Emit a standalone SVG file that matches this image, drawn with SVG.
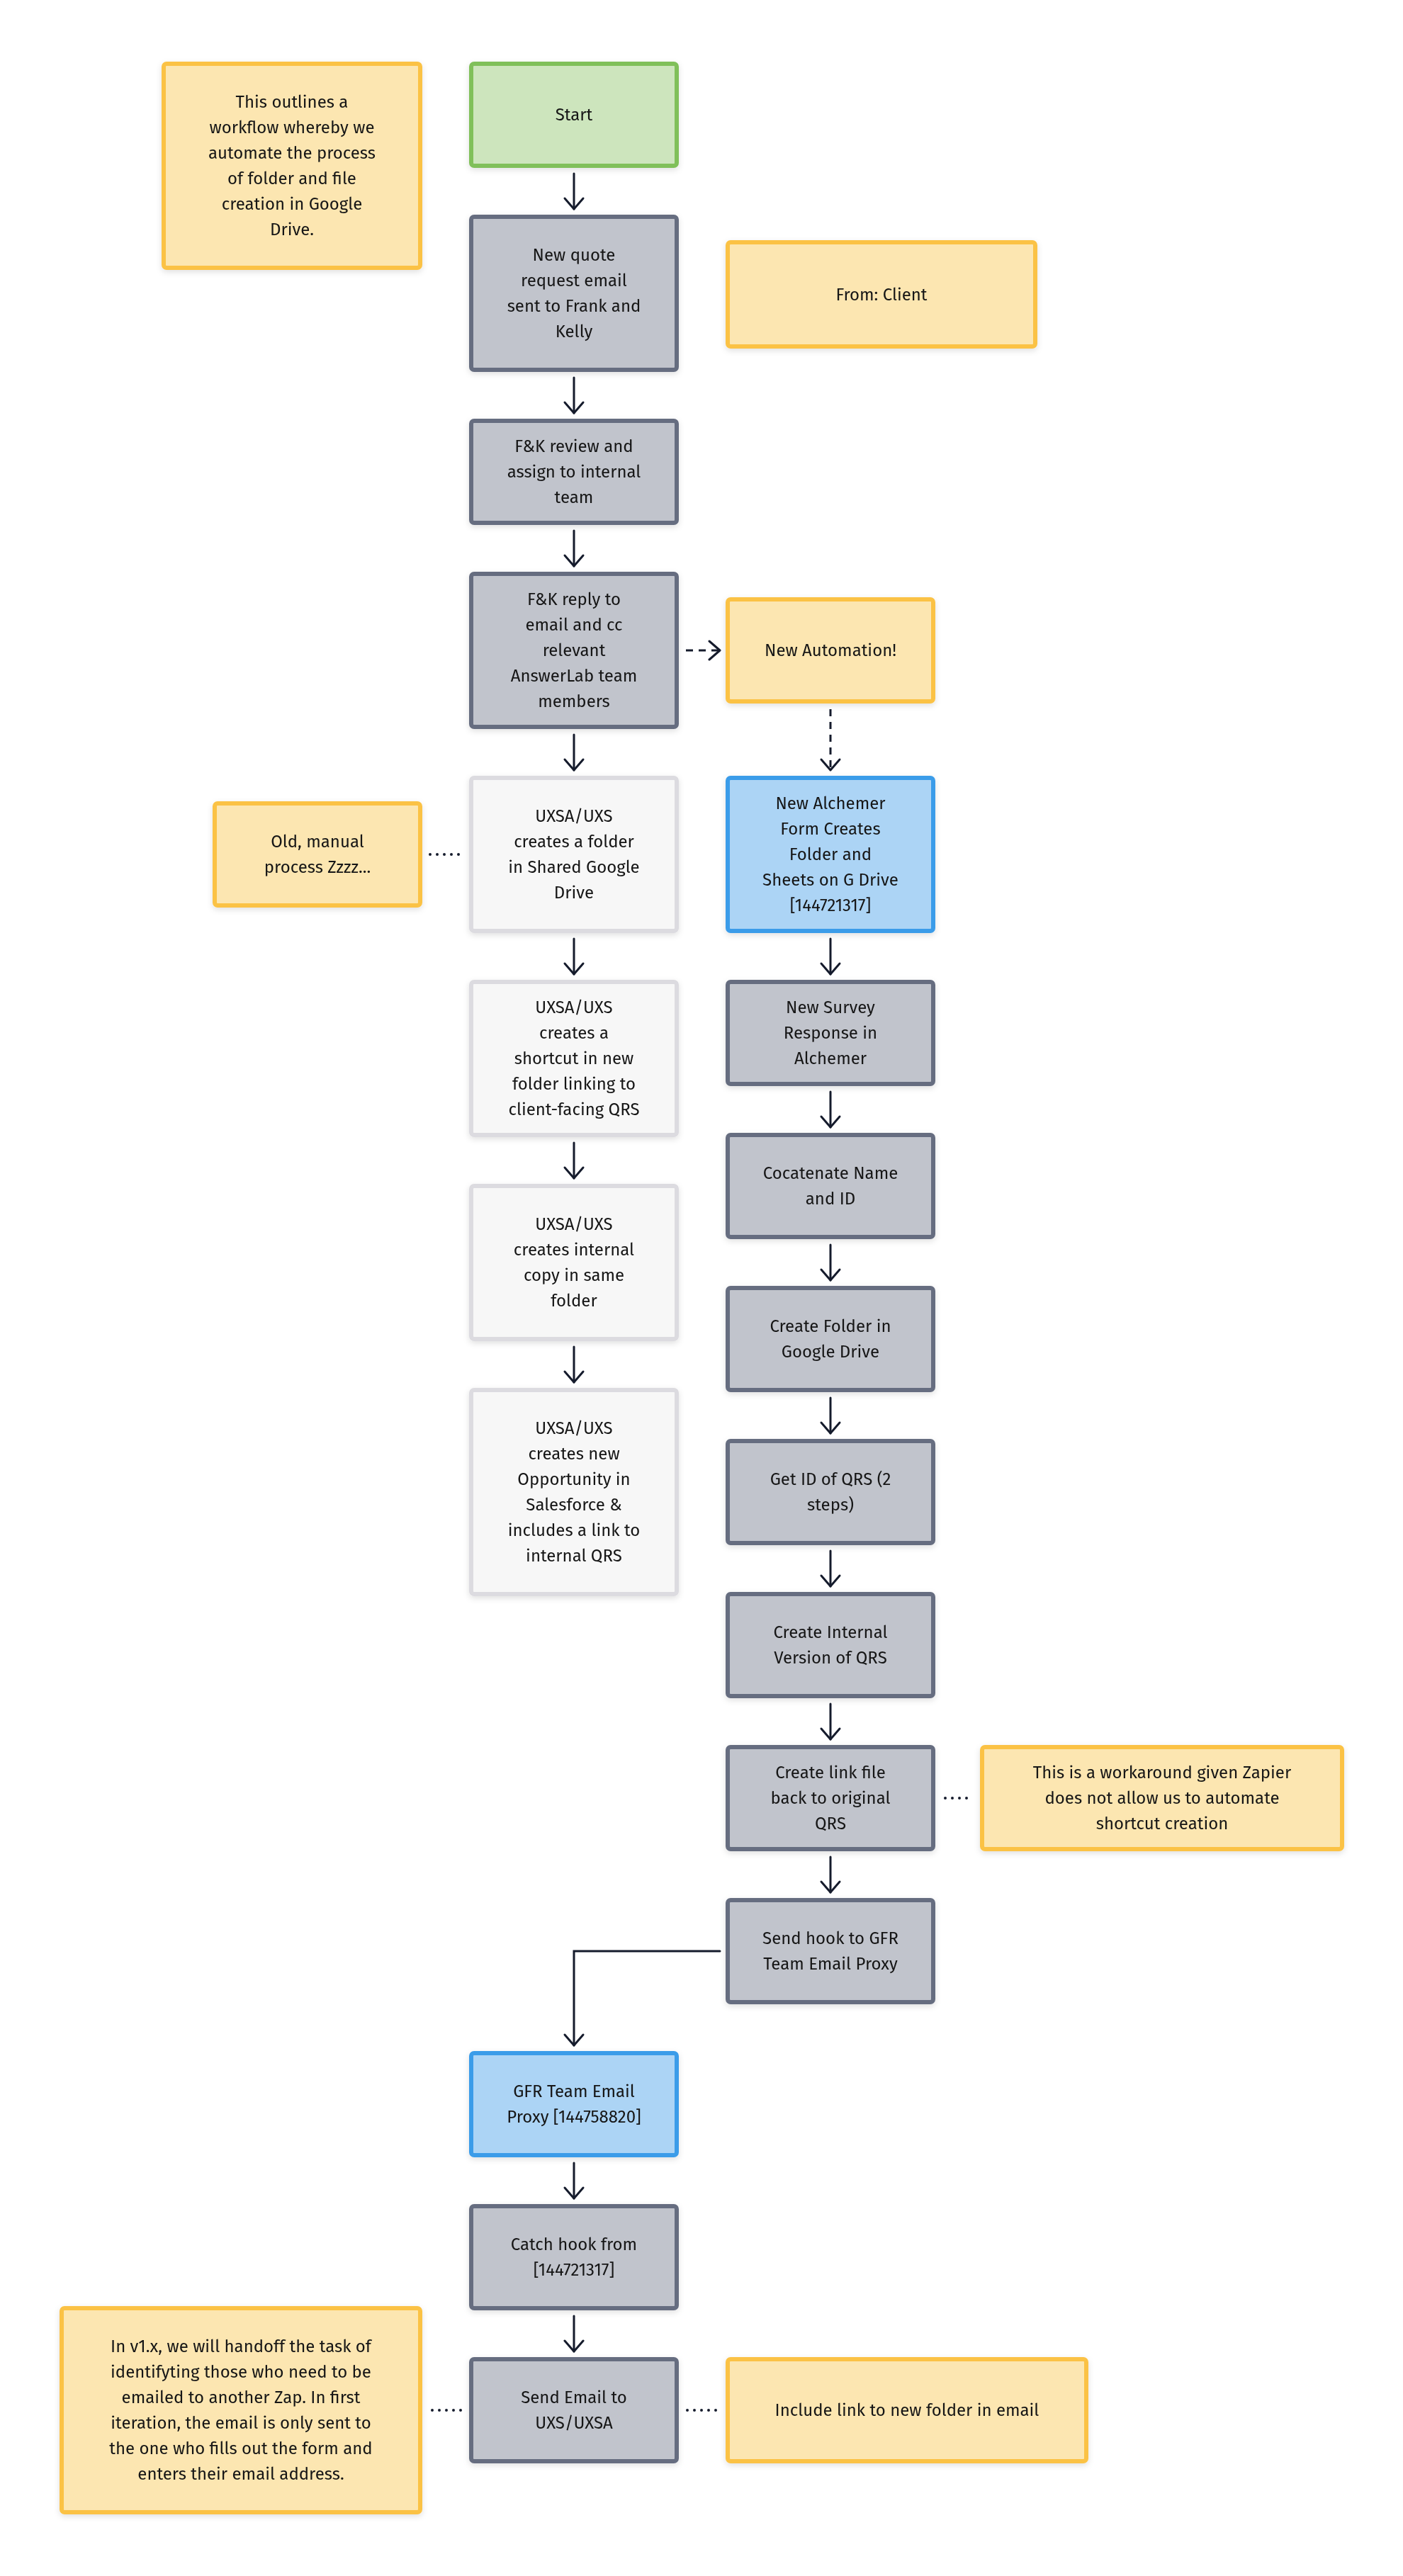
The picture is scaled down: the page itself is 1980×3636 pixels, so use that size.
<svg xmlns="http://www.w3.org/2000/svg" width="1980" height="3636" viewBox="0 0 1980 3636">
<style>
.n rect{stroke-width:6}
.note rect{fill:#fce6b1;stroke:#fbc245}
.start rect{fill:#cde5bd;stroke:#80c05a}
.grey rect{fill:#c1c4cc;stroke:#666d80}
.light rect{fill:#f7f7f7;stroke:#dcdbe0}
.blue rect{fill:#acd4f5;stroke:#3a9ce9}
text{font-family:"Fira Sans","Open Sans","Noto Sans",sans-serif;font-size:24px;fill:#141414;text-anchor:middle}
.c{fill:none;stroke:#151b2c;stroke-width:3;stroke-linecap:round}
.dash{stroke-dasharray:10 8;stroke-linecap:butt}
.dot{stroke-dasharray:0 10;stroke-width:4}
</style>
<defs>
<filter id="sh" x="-10%" y="-10%" width="120%" height="130%">
<feDropShadow dx="0" dy="3" stdDeviation="4" flood-color="#000" flood-opacity="0.12"/>
</filter>
<marker id="ah" viewBox="-20 -16 24 32" refX="0" refY="0" markerWidth="24" markerHeight="32" markerUnits="userSpaceOnUse" orient="auto">
<path d="M-15,-13 L0,0 L-15,13" fill="none" stroke="#151b2c" stroke-width="3" stroke-linecap="round" stroke-linejoin="round"/>
</marker>
</defs>
<rect width="1980" height="3636" fill="#ffffff"/>

<g id="connectors">
<path class="c" d="M810,245 V295" marker-end="url(#ah)"/>
<path class="c" d="M810,533 V583" marker-end="url(#ah)"/>
<path class="c" d="M810,749 V799" marker-end="url(#ah)"/>
<path class="c" d="M810,1037 V1087" marker-end="url(#ah)"/>
<path class="c" d="M810,1325 V1375" marker-end="url(#ah)"/>
<path class="c" d="M810,1613 V1663" marker-end="url(#ah)"/>
<path class="c" d="M810,1901 V1951" marker-end="url(#ah)"/>
<path class="c dash" d="M968,918 H1016" marker-end="url(#ah)"/>
<path class="c dash" d="M1172,1001 V1087" marker-end="url(#ah)"/>
<path class="c" d="M1172,1325 V1375" marker-end="url(#ah)"/>
<path class="c" d="M1172,1541 V1591" marker-end="url(#ah)"/>
<path class="c" d="M1172,1757 V1807" marker-end="url(#ah)"/>
<path class="c" d="M1172,1973 V2023" marker-end="url(#ah)"/>
<path class="c" d="M1172,2189 V2239" marker-end="url(#ah)"/>
<path class="c" d="M1172,2405 V2455" marker-end="url(#ah)"/>
<path class="c" d="M1172,2621 V2671" marker-end="url(#ah)"/>
<path class="c" d="M1016,2754 H810 V2887" stroke-linecap="butt" stroke-linejoin="miter" marker-end="url(#ah)"/>
<path class="c" d="M810,3053 V3103" marker-end="url(#ah)"/>
<path class="c" d="M810,3269 V3319" marker-end="url(#ah)"/>
<path class="c dot" d="M607,1206 H649"/>
<path class="c dot" d="M1334,2538 H1374"/>
<path class="c dot" d="M610,3402 H652"/>
<path class="c dot" d="M970,3402 H1012"/>
</g>

<g id="note-intro" class="n note" filter="url(#sh)">
<rect x="231" y="90" width="362" height="288" rx="4"/>
<text x="412" y="152">This outlines a</text>
<text x="412" y="188">workflow whereby we</text>
<text x="412" y="224">automate the process</text>
<text x="412" y="260">of folder and file</text>
<text x="412" y="296">creation in Google</text>
<text x="412" y="332">Drive.</text>
</g>

<g id="start" class="n start" filter="url(#sh)">
<rect x="665" y="90" width="290" height="144" rx="4"/>
<text x="810" y="170">Start</text>
</g>

<g id="new-quote" class="n grey" filter="url(#sh)">
<rect x="665" y="306" width="290" height="216" rx="4"/>
<text x="810" y="368">New quote</text>
<text x="810" y="404">request email</text>
<text x="810" y="440">sent to Frank and</text>
<text x="810" y="476">Kelly</text>
</g>

<g id="from-client" class="n note" filter="url(#sh)">
<rect x="1027" y="342" width="434" height="147" rx="4"/>
<text x="1244" y="424">From: Client</text>
</g>

<g id="fk-review" class="n grey" filter="url(#sh)">
<rect x="665" y="594" width="290" height="144" rx="4"/>
<text x="810" y="638">F&amp;K review and</text>
<text x="810" y="674">assign to internal</text>
<text x="810" y="710">team</text>
</g>

<g id="fk-reply" class="n grey" filter="url(#sh)">
<rect x="665" y="810" width="290" height="216" rx="4"/>
<text x="810" y="854">F&amp;K reply to</text>
<text x="810" y="890">email and cc</text>
<text x="810" y="926">relevant</text>
<text x="810" y="962">AnswerLab team</text>
<text x="810" y="998">members</text>
</g>

<g id="new-automation" class="n note" filter="url(#sh)">
<rect x="1027" y="846" width="290" height="144" rx="4"/>
<text x="1172" y="926">New Automation!</text>
</g>

<g id="old-manual" class="n note" filter="url(#sh)">
<rect x="303" y="1134" width="290" height="144" rx="4"/>
<text x="448" y="1196">Old, manual</text>
<text x="448" y="1232">process Zzzz...</text>
</g>

<g id="uxsa-folder" class="n light" filter="url(#sh)">
<rect x="665" y="1098" width="290" height="216" rx="4"/>
<text x="810" y="1160">UXSA/UXS</text>
<text x="810" y="1196">creates a folder</text>
<text x="810" y="1232">in Shared Google</text>
<text x="810" y="1268">Drive</text>
</g>

<g id="new-alchemer" class="n blue" filter="url(#sh)">
<rect x="1027" y="1098" width="290" height="216" rx="4"/>
<text x="1172" y="1142">New Alchemer</text>
<text x="1172" y="1178">Form Creates</text>
<text x="1172" y="1214">Folder and</text>
<text x="1172" y="1250">Sheets on G Drive</text>
<text x="1172" y="1286">[144721317]</text>
</g>

<g id="uxsa-shortcut" class="n light" filter="url(#sh)">
<rect x="665" y="1386" width="290" height="216" rx="4"/>
<text x="810" y="1430">UXSA/UXS</text>
<text x="810" y="1466">creates a</text>
<text x="810" y="1502">shortcut in new</text>
<text x="810" y="1538">folder linking to</text>
<text x="810" y="1574">client-facing QRS</text>
</g>

<g id="new-survey" class="n grey" filter="url(#sh)">
<rect x="1027" y="1386" width="290" height="144" rx="4"/>
<text x="1172" y="1430">New Survey</text>
<text x="1172" y="1466">Response in</text>
<text x="1172" y="1502">Alchemer</text>
</g>

<g id="uxsa-copy" class="n light" filter="url(#sh)">
<rect x="665" y="1674" width="290" height="216" rx="4"/>
<text x="810" y="1736">UXSA/UXS</text>
<text x="810" y="1772">creates internal</text>
<text x="810" y="1808">copy in same</text>
<text x="810" y="1844">folder</text>
</g>

<g id="concatenate" class="n grey" filter="url(#sh)">
<rect x="1027" y="1602" width="290" height="144" rx="4"/>
<text x="1172" y="1664">Cocatenate Name</text>
<text x="1172" y="1700">and ID</text>
</g>

<g id="create-folder" class="n grey" filter="url(#sh)">
<rect x="1027" y="1818" width="290" height="144" rx="4"/>
<text x="1172" y="1880">Create Folder in</text>
<text x="1172" y="1916">Google Drive</text>
</g>

<g id="uxsa-opportunity" class="n light" filter="url(#sh)">
<rect x="665" y="1962" width="290" height="288" rx="4"/>
<text x="810" y="2024">UXSA/UXS</text>
<text x="810" y="2060">creates new</text>
<text x="810" y="2096">Opportunity in</text>
<text x="810" y="2132">Salesforce &amp;</text>
<text x="810" y="2168">includes a link to</text>
<text x="810" y="2204">internal QRS</text>
</g>

<g id="get-id" class="n grey" filter="url(#sh)">
<rect x="1027" y="2034" width="290" height="144" rx="4"/>
<text x="1172" y="2096">Get ID of QRS (2</text>
<text x="1172" y="2132">steps)</text>
</g>

<g id="create-internal" class="n grey" filter="url(#sh)">
<rect x="1027" y="2250" width="290" height="144" rx="4"/>
<text x="1172" y="2312">Create Internal</text>
<text x="1172" y="2348">Version of QRS</text>
</g>

<g id="create-link" class="n grey" filter="url(#sh)">
<rect x="1027" y="2466" width="290" height="144" rx="4"/>
<text x="1172" y="2510">Create link file</text>
<text x="1172" y="2546">back to original</text>
<text x="1172" y="2582">QRS</text>
</g>

<g id="workaround-note" class="n note" filter="url(#sh)">
<rect x="1386" y="2466" width="508" height="144" rx="4"/>
<text x="1640" y="2510">This is a workaround given Zapier</text>
<text x="1640" y="2546">does not allow us to automate</text>
<text x="1640" y="2582">shortcut creation</text>
</g>

<g id="send-hook" class="n grey" filter="url(#sh)">
<rect x="1027" y="2682" width="290" height="144" rx="4"/>
<text x="1172" y="2744">Send hook to GFR</text>
<text x="1172" y="2780">Team Email Proxy</text>
</g>

<g id="gfr-proxy" class="n blue" filter="url(#sh)">
<rect x="665" y="2898" width="290" height="144" rx="4"/>
<text x="810" y="2960">GFR Team Email</text>
<text x="810" y="2996">Proxy [144758820]</text>
</g>

<g id="catch-hook" class="n grey" filter="url(#sh)">
<rect x="665" y="3114" width="290" height="144" rx="4"/>
<text x="810" y="3176">Catch hook from</text>
<text x="810" y="3212">[144721317]</text>
</g>

<g id="send-email" class="n grey" filter="url(#sh)">
<rect x="665" y="3330" width="290" height="144" rx="4"/>
<text x="810" y="3392">Send Email to</text>
<text x="810" y="3428">UXS/UXSA</text>
</g>

<g id="v1x-note" class="n note" filter="url(#sh)">
<rect x="87" y="3258" width="506" height="288" rx="4"/>
<text x="340" y="3320">In v1.x, we will handoff the task of</text>
<text x="340" y="3356">identifyting those who need to be</text>
<text x="340" y="3392">emailed to another Zap. In first</text>
<text x="340" y="3428">iteration, the email is only sent to</text>
<text x="340" y="3464">the one who fills out the form and</text>
<text x="340" y="3500">enters their email address.</text>
</g>

<g id="include-link-note" class="n note" filter="url(#sh)">
<rect x="1027" y="3330" width="506" height="144" rx="4"/>
<text x="1280" y="3410">Include link to new folder in email</text>
</g>
</svg>
